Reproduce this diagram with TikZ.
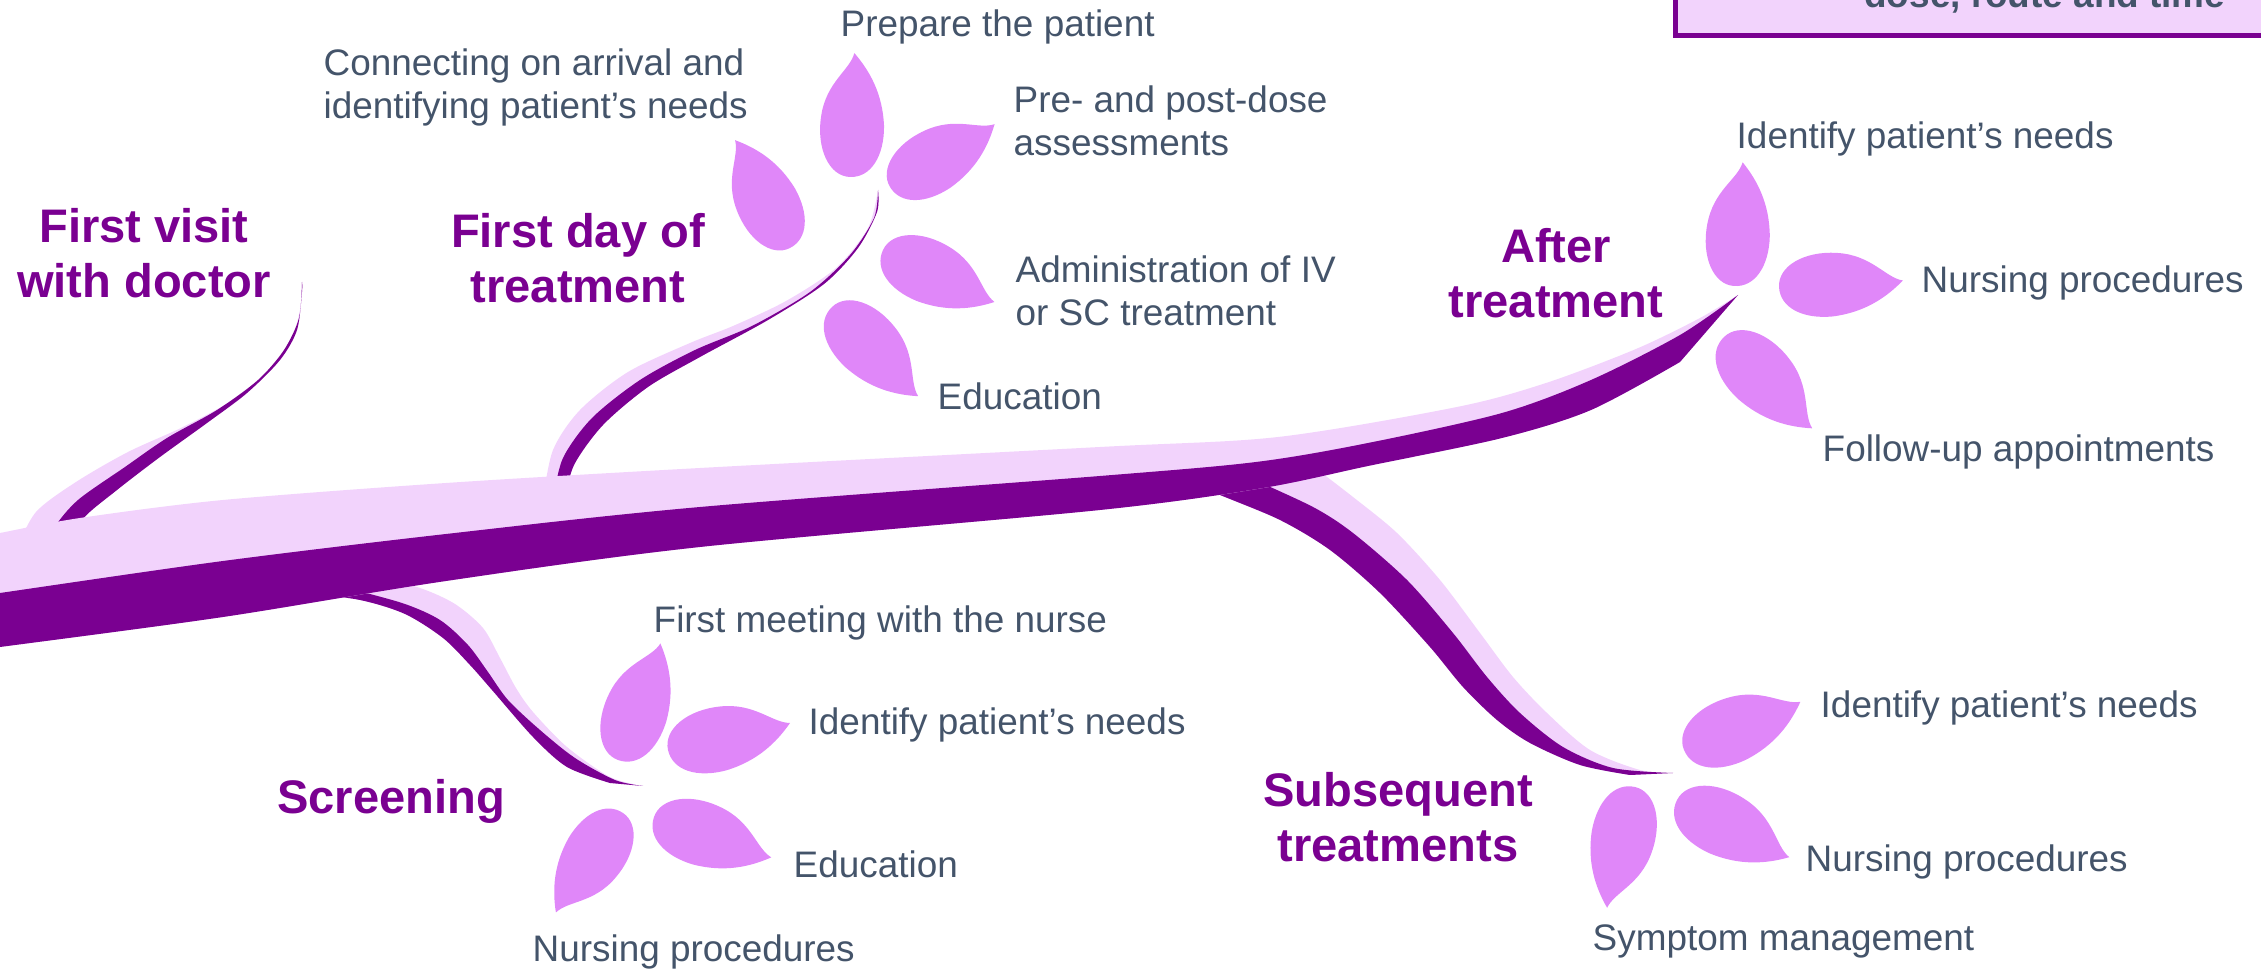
\documentclass[tikz,border=0pt]{standalone}
\usepackage{fontspec}
\setmainfont{Liberation Sans}
\definecolor{lavender}{RGB}{242,211,252}
\definecolor{plumdark}{RGB}{122,0,145}
\definecolor{petalpink}{RGB}{224,135,249}
\definecolor{slate}{RGB}{68,84,106}
\begin{document}
\begin{tikzpicture}[x=0.1mm, y=-0.1mm,
  lav/.style={fill=lavender},
  plum/.style={fill=plumdark},
  item/.style={font=\fontsize{10.5}{12.5}\selectfont, text=slate,
    inner sep=0pt, align=left, anchor=base west},
  stage/.style={font=\bfseries\fontsize{13.4}{15.9}\selectfont, text=plumdark,
    inner sep=0pt, align=center, anchor=base},
  pics/petal/.style={code={
    \fill[petalpink]
      (1,0) .. controls (0.86,-0.03) and (0.76,-0.22) .. (0.48,-0.25)
            .. controls (0.22,-0.28) and (0,-0.17) .. (0,0)
            .. controls (0,0.17) and (0.18,0.27) .. (0.42,0.26)
            .. controls (0.68,0.24) and (0.86,0.13) .. (1,0) -- cycle;
  }}]
\useasboundingbox (0,0) rectangle (2261,970);
\clip (0,0) rectangle (2261,970);

% ---- branches (drawn below the trunk) ----
% first visit with doctor
\fill[lav] plot[smooth] coordinates {(302,282) (300,310) (290,343) (267,373) (233,400) (183,427) (128,452) (76,482) (36,512) (16,550)}
  -- plot[smooth] coordinates {(72,550) (82,520) (117,490) (160,457) (207,423) (247,393) (280,360) (297,330) (302,292) (302,282)} -- cycle;
\fill[plum] plot[smooth] coordinates {(302,282) (299,318) (284,350) (258,380) (217,410) (167,438) (125,467) (78,500) (54,528) (46,550)}
  -- plot[smooth] coordinates {(72,550) (82,520) (117,490) (160,457) (207,423) (247,393) (280,360) (297,330) (302,292) (302,282)} -- cycle;
% first day of treatment
\fill[lav] plot[smooth] coordinates {(878,190) (868,228) (836,268) (786,301) (733,326) (690,343) (628,372) (580,410) (553,450) (543,500)}
  -- plot[smooth] coordinates {(565,500) (574,465) (603,425) (648,387) (700,357) (768,320) (824,284) (858,248) (877,212) (878,190)} -- cycle;
\fill[plum] plot[smooth] coordinates {(878,190) (874,218) (850,255) (810,292) (752,326) (695,350) (640,380) (592,418) (563,458) (553,500)}
  -- plot[smooth] coordinates {(565,500) (574,465) (603,425) (648,387) (700,357) (768,320) (824,284) (858,248) (877,212) (878,190)} -- cycle;
% screening
\fill[lav] plot[smooth] coordinates {(370,575) (420,588) (455,604) (483,628) (500,658) (516,688) (533,712) (567,747) (610,777) (643,786)}
  -- plot[smooth] coordinates {(610,783) (567,767) (533,737) (492,690) (470,665) (443,638) (405,614) (360,600) (300,592)} -- cycle;
\fill[plum] plot[smooth] coordinates {(335,585) (402,603) (440,620) (468,645) (488,672) (508,700) (540,730) (575,758) (615,780) (643,786)}
  -- plot[smooth] coordinates {(610,783) (567,767) (533,737) (492,690) (470,665) (443,638) (405,614) (360,600) (300,592)} -- cycle;
% subsequent treatments
\fill[lav] plot[smooth] coordinates {(1310,464) (1353,497) (1397,533) (1440,580) (1480,633) (1513,677) (1547,713) (1590,750) (1640,770) (1673,773)}
  -- plot[smooth] coordinates {(1630,775) (1580,765) (1530,743) (1497,720) (1463,687) (1430,647) (1380,593) (1330,550) (1280,520) (1220,495) (1190,482)} -- cycle;
\fill[plum] plot[smooth] coordinates {(1250,478) (1313,507) (1353,533) (1407,580) (1453,633) (1487,677) (1520,713) (1563,747) (1613,768) (1673,773)}
  -- plot[smooth] coordinates {(1630,775) (1580,765) (1530,743) (1497,720) (1463,687) (1430,647) (1380,593) (1330,550) (1280,520) (1220,495) (1190,482)} -- cycle;

% ---- trunk ----
\fill[lav] plot[smooth] coordinates {(-40,541) (0,533) (80,518) (223,500) (446,483) (700,468) (1100,447) (1278,437) (1457,407) (1546,383) (1636,349) (1700,318) (1738,295)}
  -- plot[smooth] coordinates {(1680,362) (1591,410) (1502,438) (1368,466) (1263,488) (1100,510) (700,547) (446,581) (223,617) (0,647) (-40,652)} -- cycle;
\fill[plum] plot[smooth] coordinates {(-40,599) (0,593) (223,561) (446,534) (700,507) (1100,476) (1256,462) (1368,443) (1502,413) (1591,380) (1680,335) (1738,295)}
  -- plot[smooth] coordinates {(1680,362) (1591,410) (1502,438) (1368,466) (1263,488) (1100,510) (700,547) (446,581) (223,617) (0,647) (-40,652)} -- cycle;

% ---- flowers ----
\pic[rotate=88,  scale=124] at (850,177) {petal};
\pic[rotate=117, scale=121] at (790,248) {petal};
\pic[rotate=31,  scale=122] at (890,187) {petal};
\pic[rotate=-25, scale=123] at (883,250) {petal};
\pic[rotate=-46, scale=124] at (832,307) {petal};

\pic[rotate=70,  scale=124] at (618,760) {petal};
\pic[rotate=12.5,scale=125] at (668,750) {petal};
\pic[rotate=-19, scale=124] at (654,817) {petal};
\pic[rotate=236, scale=120] at (623,813) {petal};

\pic[rotate=86,  scale=124] at (1734,286) {petal};
\pic[rotate=3,   scale=124] at (1779,287) {petal};
\pic[rotate=-46, scale=127] at (1724,337) {petal};

\pic[rotate=22.5,scale=126] at (1684,750) {petal};
\pic[rotate=-27, scale=126] at (1677,800) {petal};
\pic[rotate=257, scale=124] at (1635,787) {petal};

% ---- stage titles (anchor on the baseline of the last line) ----
\node[stage] (visit) at (144,298) {First visit\\with doctor};
\node[stage] (day1) at (578,303) {First day of\\treatment};
\node[stage] (after) at (1556,318) {After\\treatment};
\node[stage] (screen) at (391,814) {Screening};
\node[stage] (subseq) at (1398,862) {Subsequent\\treatments};

% ---- activity labels ----
\node[item] (prep) at (840,37) {Prepare the patient};
\node[item] (conn) at (323,119) {Connecting on arrival and\\identifying patient’s needs};
\node[item] (assess) at (1013,156) {Pre- and post-dose\\assessments};
\node[item] (admin) at (1015,326) {Administration of IV\\or SC treatment};
\node[item] (edu1) at (937,410) {Education};
\node[item] (needs3) at (1736,149) {Identify patient’s needs};
\node[item] (nurse3) at (1921,293) {Nursing procedures};
\node[item] (follow) at (1822,462) {Follow-up appointments};
\node[item] (meet) at (653,633) {First meeting with the nurse};
\node[item] (needs2) at (808,735) {Identify patient’s needs};
\node[item] (edu2) at (793,878) {Education};
\node[item] (nurse2) at (532,962) {Nursing procedures};
\node[item] (needs4) at (1820,718) {Identify patient’s needs};
\node[item] (nurse4) at (1805,872) {Nursing procedures};
\node[item] (symp) at (1592,951) {Symptom management};

% ---- note box, top right ----
\draw[draw=plumdark, line width=0.5mm, fill=lavender]
  (1675,-60) rectangle (2320,36);
\node[item, font=\bfseries\fontsize{10.5}{12.5}\selectfont, anchor=base east] (note) at (2226,8) {dose, route and time};
\end{tikzpicture}
\end{document}
